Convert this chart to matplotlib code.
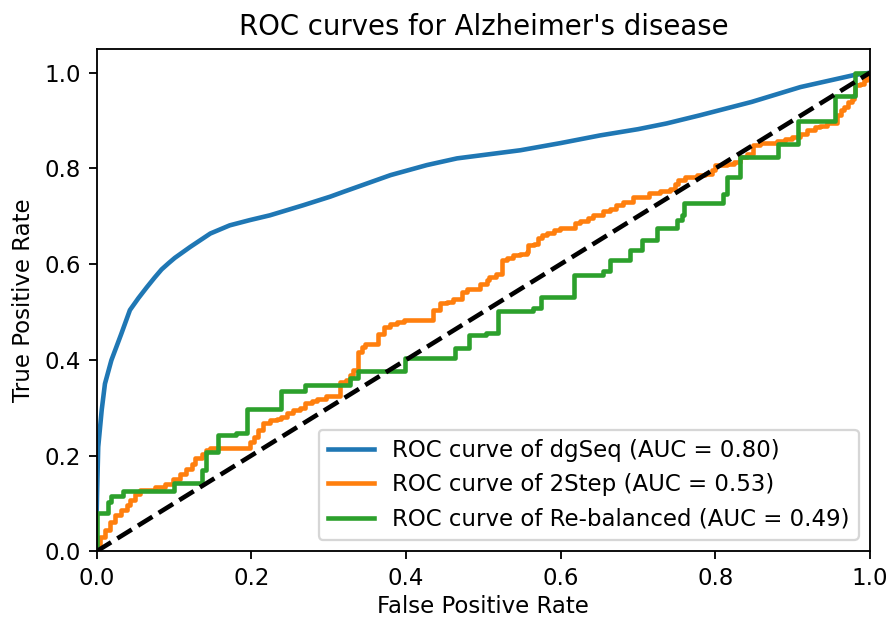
import numpy as np
import matplotlib
matplotlib.use('Agg')
import matplotlib.pyplot as plt

# ROC points (fpr, tpr)
dgseq_fpr = [0.0, 0.0, 0.0005, 0.002, 0.0065, 0.0107, 0.019, 0.032, 0.043, 0.054,
             0.065, 0.075, 0.084, 0.093, 0.101, 0.121, 0.147, 0.172, 0.198, 0.224,
             0.267, 0.302, 0.319, 0.38, 0.427, 0.466, 0.548, 0.6, 0.651, 0.7,
             0.737, 0.78, 0.847, 0.91, 0.979, 1.0]
dgseq_tpr = [0.0, 0.08, 0.12, 0.218, 0.295, 0.350, 0.399, 0.455, 0.504, 0.529,
             0.552, 0.572, 0.589, 0.602, 0.613, 0.636, 0.664, 0.681, 0.692, 0.702,
             0.723, 0.741, 0.751, 0.786, 0.807, 0.821, 0.838, 0.853, 0.869, 0.882,
             0.894, 0.911, 0.939, 0.970, 0.995, 1.0]

# step curves: each point is where a new tpr level starts
twostep_fpr = [0.0, 0.0, 0.004, 0.011, 0.017, 0.024, 0.032, 0.039, 0.043, 0.050,
               0.056, 0.075, 0.088, 0.099, 0.108, 0.116, 0.123, 0.127, 0.136, 0.142,
               0.147, 0.198, 0.203, 0.209, 0.2155, 0.224, 0.233, 0.239, 0.246, 0.254,
               0.263, 0.269, 0.278, 0.285, 0.296, 0.315, 0.323, 0.328, 0.332, 0.338,
               0.343, 0.347, 0.364, 0.371, 0.379, 0.388, 0.397, 0.435, 0.444, 0.453,
               0.461, 0.472, 0.479, 0.496, 0.505, 0.507, 0.517, 0.524, 0.530, 0.539,
               0.548, 0.556, 0.558, 0.565, 0.571, 0.576, 0.582, 0.591, 0.599, 0.619,
               0.625, 0.636, 0.642, 0.655, 0.664, 0.671, 0.681, 0.694, 0.714, 0.729,
               0.742, 0.748, 0.752, 0.761, 0.776, 0.787, 0.796, 0.800, 0.815, 0.824,
               0.832, 0.841, 0.849, 0.858, 0.880, 0.890, 0.899, 0.910, 0.918, 0.929,
               0.936, 0.945, 0.957, 0.962, 0.966, 0.972, 0.977, 0.979, 0.981, 0.987,
               0.992, 0.996, 1.0]
twostep_tpr = [0.0, 0.016, 0.030, 0.044, 0.061, 0.075, 0.086, 0.096, 0.108, 0.119,
               0.127, 0.134, 0.141, 0.150, 0.161, 0.171, 0.183, 0.194, 0.204, 0.211,
               0.215, 0.228, 0.239, 0.253, 0.267, 0.274, 0.277, 0.281, 0.288, 0.295,
               0.300, 0.309, 0.314, 0.319, 0.324, 0.354, 0.357, 0.368, 0.378, 0.4165,
               0.427, 0.433, 0.455, 0.469, 0.474, 0.479, 0.483, 0.504, 0.518, 0.521,
               0.528, 0.542, 0.549, 0.558, 0.566, 0.573, 0.579, 0.608, 0.612, 0.619,
               0.622, 0.626, 0.640, 0.643, 0.654, 0.660, 0.665, 0.671, 0.676, 0.685,
               0.691, 0.696, 0.702, 0.710, 0.716, 0.723, 0.730, 0.741, 0.749, 0.753,
               0.758, 0.768, 0.775, 0.782, 0.786, 0.789, 0.796, 0.807, 0.810, 0.814,
               0.824, 0.831, 0.848, 0.854, 0.857, 0.861, 0.866, 0.871, 0.880, 0.887,
               0.889, 0.894, 0.911, 0.922, 0.929, 0.939, 0.946, 0.953, 0.974, 0.977,
               0.984, 0.995, 1.0]

rebal_fpr = [0.0, 0.0, 0.015, 0.019, 0.034, 0.100, 0.136, 0.142, 0.157, 0.180,
             0.194, 0.239, 0.269, 0.328, 0.338, 0.399, 0.463, 0.481, 0.504, 0.519,
             0.564, 0.575, 0.617, 0.655, 0.664, 0.690, 0.705, 0.724, 0.750, 0.757,
             0.760, 0.810, 0.815, 0.832, 0.881, 0.907, 0.955, 0.981, 1.0]
rebal_tpr = [0.0, 0.080, 0.103, 0.115, 0.126, 0.143, 0.169, 0.208, 0.242, 0.247,
             0.298, 0.335, 0.347, 0.361, 0.377, 0.403, 0.424, 0.451, 0.456, 0.502,
             0.509, 0.531, 0.577, 0.586, 0.608, 0.629, 0.650, 0.676, 0.692, 0.702,
             0.728, 0.747, 0.782, 0.824, 0.851, 0.900, 0.951, 1.0, 1.0]

labels = ['ROC curve of dgSeq (AUC = 0.80)',
          'ROC curve of 2Step (AUC = 0.53)',
          'ROC curve of Re-balanced (AUC = 0.49)']

dpi = 165
fig = plt.figure(figsize=(891 / dpi, 617 / dpi), dpi=dpi)
ax = fig.add_axes([0.1085, 0.1066, 0.8679, 0.8143])

ax.plot(dgseq_fpr, dgseq_tpr, color='tab:blue', lw=2, label=labels[0])
ax.plot(twostep_fpr, twostep_tpr, color='tab:orange', lw=2, drawstyle='steps-post', label=labels[1])
ax.plot(rebal_fpr, rebal_tpr, color='tab:green', lw=2, drawstyle='steps-post', label=labels[2])
ax.plot([0, 1], [0, 1], 'k--', lw=2)

ax.set_xlim([0.0, 1.0])
ax.set_ylim([0.0, 1.05])
ax.set_xlabel('False Positive Rate', labelpad=2)
ax.set_ylabel('True Positive Rate')
ax.set_title("ROC curves for Alzheimer's disease")
ax.legend(loc='lower right')

fig.savefig('out.png', dpi=dpi)
